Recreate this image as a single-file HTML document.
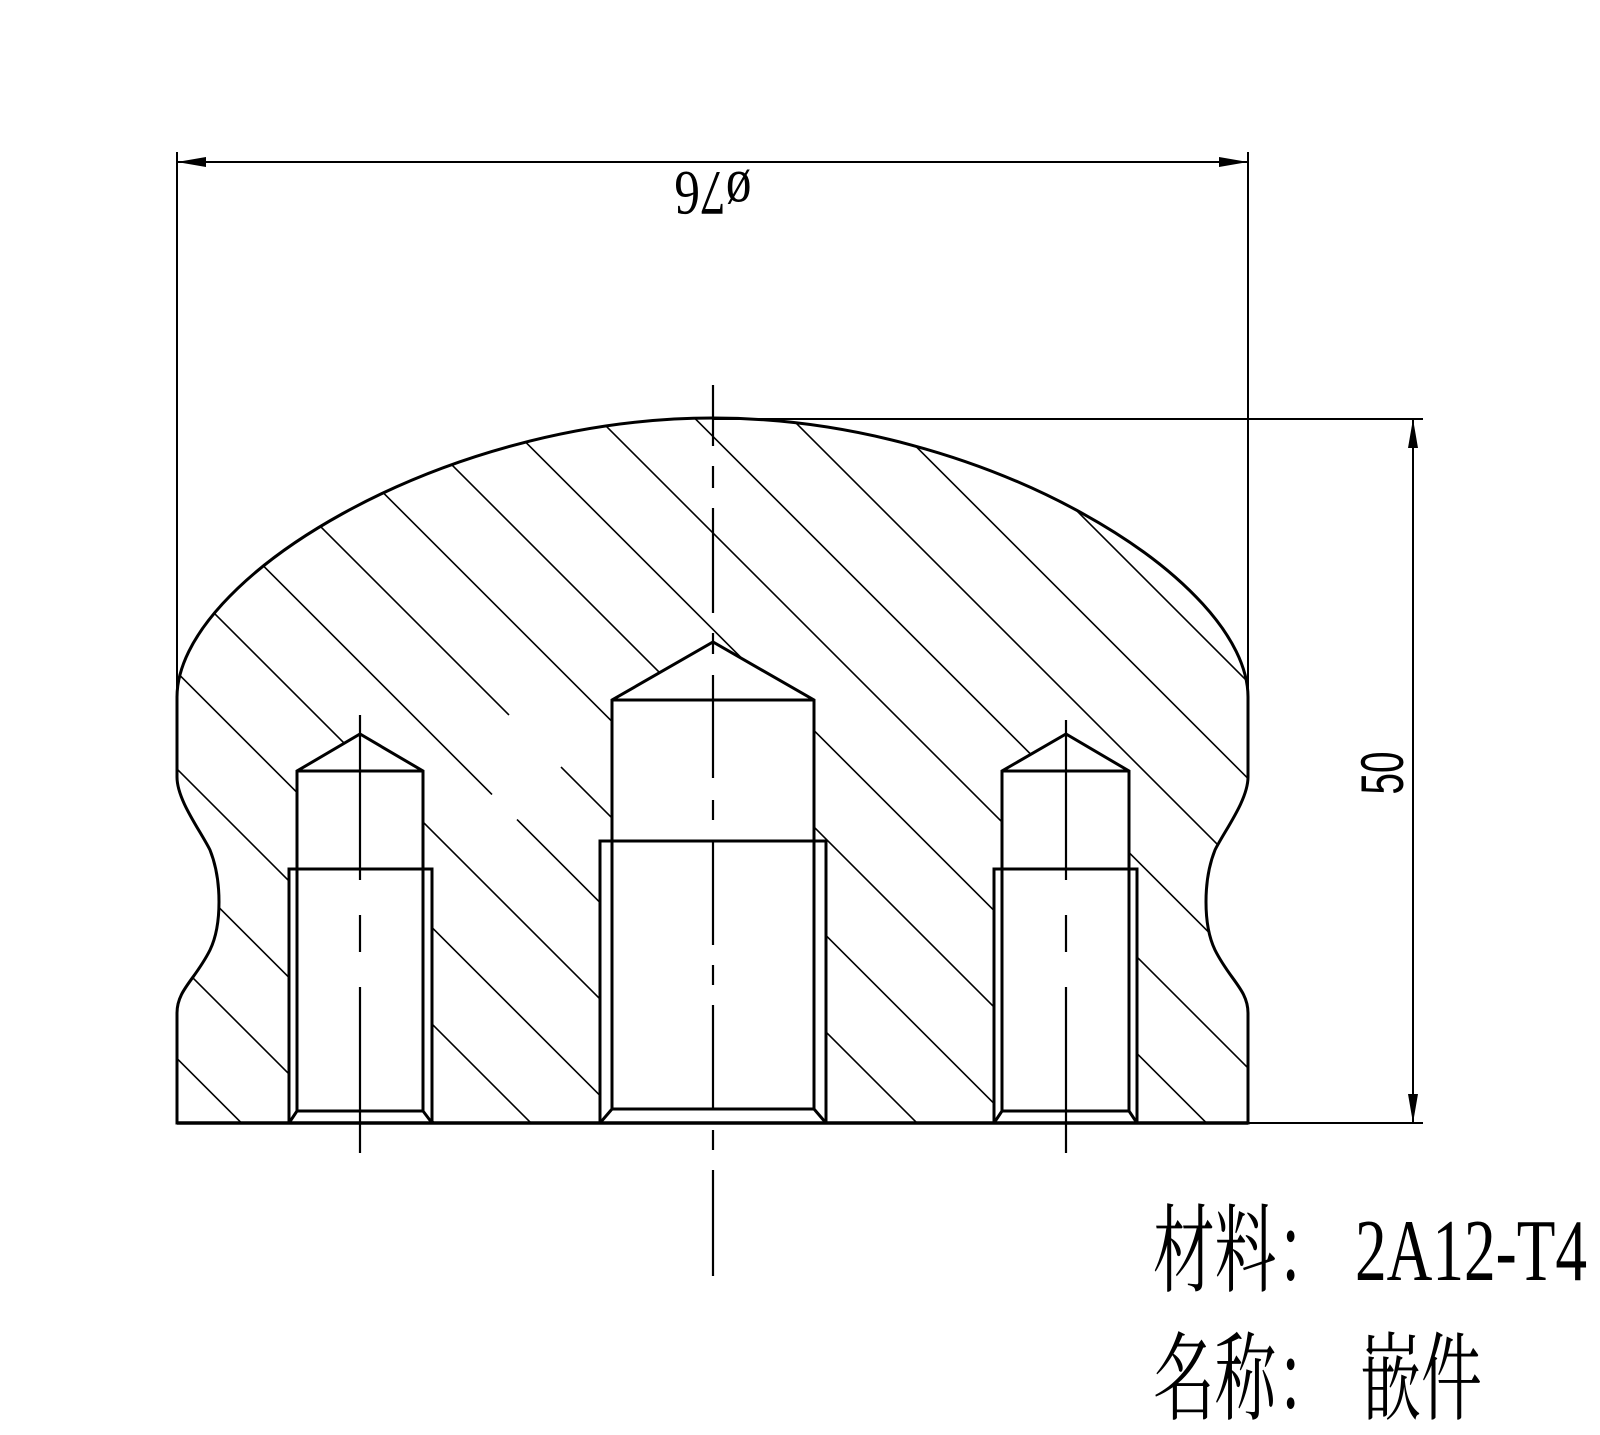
<!DOCTYPE html>
<html><head><meta charset="utf-8"><style>
html,body{margin:0;padding:0;background:#fff;}
svg{display:block;}
</style></head><body>
<svg width="1600" height="1435" viewBox="0 0 1600 1435" xmlns="http://www.w3.org/2000/svg">
<defs>
<clipPath id="body">
<path d="M177,1123 L177,1013 C177,990 195,980 210,950 C222,925 222,880 210,850 C200,830 177,800 177,777 L177,697 C177,580 440,418 713,418 C986,418 1248,580 1248,697 L1248,777 C1248,800 1225,830 1215,850 C1203,880 1203,925 1215,950 C1230,980 1248,990 1248,1013 L1248,1123 Z"/>
</clipPath>
</defs>
<rect width="1600" height="1435" fill="#fff"/>
<g clip-path="url(#body)" stroke="#000" stroke-width="1.6">
<line x1="-678" y1="300" x2="222" y2="1200"/>
<line x1="-581.5" y1="300" x2="318.5" y2="1200"/>
<line x1="-485" y1="300" x2="415" y2="1200"/>
<line x1="-388.5" y1="300" x2="511.5" y2="1200"/>
<line x1="-292" y1="300" x2="608" y2="1200"/>
<line x1="-195.5" y1="300" x2="704.5" y2="1200"/>
<line x1="-99" y1="300" x2="801" y2="1200"/>
<line x1="-2.5" y1="300" x2="897.5" y2="1200"/>
<line x1="94" y1="300" x2="994" y2="1200"/>
<line x1="190.5" y1="300" x2="1090.5" y2="1200"/>
<line x1="287" y1="300" x2="1187" y2="1200"/>
<line x1="383.5" y1="300" x2="1283.5" y2="1200"/>
<line x1="480" y1="300" x2="1380" y2="1200"/>
<line x1="576.5" y1="300" x2="1476.5" y2="1200"/>
<line x1="673" y1="300" x2="1573" y2="1200"/>
<line x1="769.5" y1="300" x2="1669.5" y2="1200"/>
<line x1="866" y1="300" x2="1766" y2="1200"/>
<line x1="962.5" y1="300" x2="1862.5" y2="1200"/>
<line x1="1059" y1="300" x2="1959" y2="1200"/>
<line x1="1155.5" y1="300" x2="2055.5" y2="1200"/>
</g>
<!-- hatch gaps -->
<g stroke="#fff" stroke-width="5">
<line x1="509" y1="715" x2="561" y2="767"/>
<line x1="492" y1="794.5" x2="517" y2="819.5"/>
</g>
<!-- body outline -->
<path d="M177,1123 L177,1013 C177,990 195,980 210,950 C222,925 222,880 210,850 C200,830 177,800 177,777 L177,697 C177,580 440,418 713,418 C986,418 1248,580 1248,697 L1248,777 C1248,800 1225,830 1215,850 C1203,880 1203,925 1215,950 C1230,980 1248,990 1248,1013 L1248,1123 Z" fill="none" stroke="#000" stroke-width="3"/>
<!-- holes -->
<g fill="#fff" stroke="#000" stroke-width="3" stroke-linejoin="miter">
<!-- left -->
<path d="M289,1123 L289,869 L297,869 L297,771 L360,734 L423,771 L423,869 L432,869 L432,1123 Z"/>
<line x1="297" y1="771" x2="423" y2="771"/>
<line x1="289" y1="869" x2="432" y2="869"/>
<path d="M297,869 L297,1111 L423,1111 L423,869" fill="none"/>
<line x1="297" y1="1111" x2="289" y2="1123"/>
<line x1="423" y1="1111" x2="432" y2="1123"/>
<!-- center -->
<path d="M600,1123 L600,841 L612,841 L612,700 L713,642 L814,700 L814,841 L826,841 L826,1123 Z"/>
<line x1="612" y1="700" x2="814" y2="700"/>
<line x1="600" y1="841" x2="826" y2="841"/>
<path d="M612,841 L612,1109 L814,1109 L814,841" fill="none"/>
<line x1="612" y1="1109" x2="600" y2="1123"/>
<line x1="814" y1="1109" x2="826" y2="1123"/>
<!-- right -->
<path d="M994,1123 L994,869 L1002,869 L1002,771 L1066,734 L1129,771 L1129,869 L1137,869 L1137,1123 Z"/>
<line x1="1002" y1="771" x2="1129" y2="771"/>
<line x1="994" y1="869" x2="1137" y2="869"/>
<path d="M1002,869 L1002,1111 L1129,1111 L1129,869" fill="none"/>
<line x1="1002" y1="1111" x2="994" y2="1123"/>
<line x1="1129" y1="1111" x2="1137" y2="1123"/>
</g>
<line x1="177" y1="1123" x2="1248" y2="1123" stroke="#000" stroke-width="3.5"/>
<!-- center lines -->
<g stroke="#000" stroke-width="2.2">
<line x1="713" y1="385" x2="713" y2="446"/>
<line x1="713" y1="466" x2="713" y2="488"/>
<line x1="713" y1="508" x2="713" y2="613"/>
<line x1="713" y1="633" x2="713" y2="654"/>
<line x1="713" y1="675" x2="713" y2="778"/>
<line x1="713" y1="800" x2="713" y2="820"/>
<line x1="713" y1="840" x2="713" y2="945"/>
<line x1="713" y1="965" x2="713" y2="985"/>
<line x1="713" y1="1005" x2="713" y2="1110"/>
<line x1="713" y1="1130" x2="713" y2="1150"/>
<line x1="713" y1="1170" x2="713" y2="1276"/>
<line x1="360" y1="715" x2="360" y2="880"/>
<line x1="360" y1="915" x2="360" y2="952"/>
<line x1="360" y1="987" x2="360" y2="1153"/>
<line x1="1066" y1="720" x2="1066" y2="880"/>
<line x1="1066" y1="915" x2="1066" y2="952"/>
<line x1="1066" y1="987" x2="1066" y2="1153"/>
</g>
<!-- dimensions -->
<g stroke="#000" stroke-width="2" fill="none">
<line x1="177" y1="152" x2="177" y2="697"/>
<line x1="1248" y1="152" x2="1248" y2="697"/>
<line x1="177" y1="162" x2="1248" y2="162"/>
<line x1="713" y1="419" x2="1423" y2="419"/>
<line x1="1248" y1="1123" x2="1423" y2="1123"/>
<line x1="1413" y1="419" x2="1413" y2="1123"/>
</g>
<g fill="#000">
<polygon points="177,162 206,157 206,167"/>
<polygon points="1248,162 1219,157 1219,167"/>
<polygon points="1413,419 1408,448 1418,448"/>
<polygon points="1413,1123 1408,1094 1418,1094"/>
</g>
<text transform="translate(713,172) rotate(180)" x="0" y="0" text-anchor="middle" font-family="Liberation Serif, serif" font-size="64" textLength="77" lengthAdjust="spacingAndGlyphs">ø76</text>
<text transform="translate(1403,773) rotate(-90)" x="0" y="0" text-anchor="middle" font-family="Liberation Sans, sans-serif" font-size="60" textLength="43" lengthAdjust="spacingAndGlyphs">50</text>
<!-- title -->
<g fill="#000">
<text x="1153" y="1284" font-family="Liberation Serif, 'Noto Serif CJK SC', serif" font-size="96" textLength="185" lengthAdjust="spacingAndGlyphs">材料：</text>
<text x="1355" y="1280" font-family="Liberation Serif, serif" font-size="88" textLength="232" lengthAdjust="spacingAndGlyphs">2A12-T4</text>
<text x="1153" y="1412" font-family="Liberation Serif, 'Noto Serif CJK SC', serif" font-size="96" textLength="185" lengthAdjust="spacingAndGlyphs">名称：</text>
<text x="1360" y="1412" font-family="Liberation Serif, 'Noto Serif CJK SC', serif" font-size="96" textLength="122" lengthAdjust="spacingAndGlyphs">嵌件</text>
</g>
</svg>
</body></html>
